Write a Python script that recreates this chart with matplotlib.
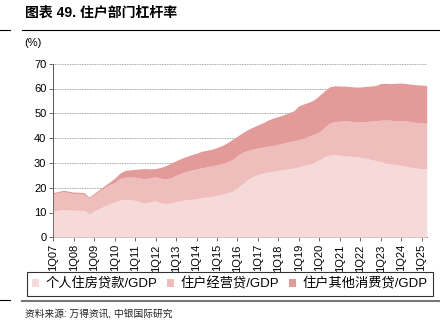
import matplotlib
matplotlib.use("Agg")
import matplotlib.pyplot as plt
from matplotlib.patches import Patch
from matplotlib.lines import Line2D

# quarterly household leverage ratios, 1Q07 - 2Q25 (% of GDP, cumulative stack tops)
housing = [10.5, 10.9, 11.2, 11.0, 10.9, 10.9, 10.8, 9.6,
           10.6, 11.6, 12.6, 13.5, 14.2, 15.0, 15.2, 15.1,
           14.9, 14.2, 13.7, 14.4, 14.7, 13.8, 13.6, 13.9,
           14.3, 14.8, 15.1, 15.3, 15.5, 16.0, 16.2, 16.5,
           16.9, 17.4, 17.9, 18.6, 20.0, 21.6, 23.3, 24.5,
           25.3, 25.9, 26.3, 26.6, 27.0, 27.3, 27.6, 27.9,
           28.4, 29.0, 29.5, 30.2, 31.2, 32.5, 33.2, 33.3,
           33.1, 32.8, 32.7, 32.5, 32.2, 31.9, 31.4, 31.0,
           30.5, 30.0, 29.6, 29.3, 29.0, 28.6, 28.2, 27.9,
           27.7, 27.6]
with_business = [17.5, 18.0, 18.4, 18.0, 17.6, 17.6, 17.3, 15.7,
                 17.2, 18.7, 20.0, 21.3, 22.0, 23.7, 24.2, 24.3,
                 24.2, 23.9, 23.5, 24.1, 24.3, 23.8, 23.6, 24.0,
                 25.0, 25.8, 26.5, 27.1, 27.6, 28.0, 28.4, 28.8,
                 29.2, 29.8, 30.4, 31.3, 33.0, 34.3, 35.0, 35.6,
                 36.0, 36.4, 36.7, 37.0, 37.5, 38.0, 38.5, 39.0,
                 39.4, 40.0, 40.8, 41.6, 42.5, 44.3, 46.0, 46.6,
                 46.8, 46.9, 46.8, 46.7, 46.6, 46.7, 46.8, 47.0,
                 47.2, 47.3, 47.2, 47.0, 46.9, 47.0, 46.6, 46.3,
                 46.1, 46.0]
total = [18.0, 18.5, 19.0, 18.6, 18.2, 18.2, 18.0, 16.2,
         17.8, 19.3, 20.8, 22.3, 23.8, 25.8, 27.0, 27.2,
         27.4, 27.6, 27.7, 27.6, 27.7, 28.2, 28.9, 29.9,
         30.9, 31.8, 32.6, 33.3, 33.9, 34.7, 35.1, 35.5,
         36.2, 37.0, 38.1, 39.5, 40.8, 42.2, 43.4, 44.4,
         45.3, 46.2, 47.3, 48.1, 48.7, 49.4, 50.2, 51.0,
         53.0, 53.8, 54.5, 55.5, 57.2, 59.0, 60.7, 61.1,
         61.0, 61.0, 60.8, 60.6, 60.6, 60.8, 61.0, 61.2,
         62.0, 62.1, 62.0, 62.1, 62.2, 62.0, 61.7, 61.5,
         61.4, 61.2]
tick_labels = ["1Q%02d" % y for y in range(7, 26)]
series_names = ["个人住房贷款/GDP", "住户经营贷/GDP", "住户其他消费贷/GDP"]
colors = ["#F6DADA", "#EEBDBC", "#E29B99"]

W, H = 440, 328
fam = ["Liberation Sans", "Noto Sans CJK SC"]

fig = plt.figure(figsize=(W / 100, H / 100), dpi=100)
ax = fig.add_axes([53.3 / W, 1 - 237.3 / H, (426.7 - 53.3) / W, (237.3 - 63.7) / H])

x = list(range(len(housing)))
ax.fill_between(x, 0, housing, color=colors[0], lw=0, zorder=3)
ax.fill_between(x, housing, with_business, color=colors[1], lw=0, zorder=3)
ax.fill_between(x, with_business, total, color=colors[2], lw=0, zorder=3)

ax.set_xlim(0, len(housing) - 1)
ax.set_ylim(0, 70)
ax.set_yticks(range(0, 71, 10))
ax.set_xticks(range(0, 4 * len(tick_labels), 4))
ax.set_xticklabels(tick_labels, rotation=90, fontsize=8, family=fam)
for lab in ax.get_yticklabels():
    lab.set_family(fam)
    lab.set_fontsize(8)
ax.tick_params(axis="both", direction="out", length=3, width=0.6, color="#555555", pad=2)
for v in range(10, 71, 10):
    ax.axhline(v, color="#888888", lw=0.6, ls=(0, (1, 1)), zorder=1)
for s in ["top", "right"]:
    ax.spines[s].set_visible(False)
for s in ["left", "bottom"]:
    ax.spines[s].set_color("#555555")
    ax.spines[s].set_linewidth(0.7)

# header, unit and source
fig.text(25 / W, 1 - 13 / H, "图表 49. 住户部门杠杆率", fontsize=10, fontweight="bold",
         family=fam, va="center", ha="left")
fig.text(24 / W, 1 - 43 / H, "(%)", fontsize=8, family=fam, va="center", ha="left")
fig.text(25 / W, 1 - 313 / H, "资料来源: 万得资讯, 中银国际研究", fontsize=7, style="italic",
         family=fam, va="center", ha="left", color="#222222")

fig.add_artist(Line2D([22 / W, 1], [1 - 30 / H, 1 - 30 / H], color="black", lw=0.8))
fig.add_artist(Line2D([0, 10 / W], [1 - 30 / H, 1 - 30 / H], color="black", lw=0.8))
fig.add_artist(Line2D([22 / W, 1], [1 - 301 / H, 1 - 301 / H], color="#777777", lw=1.5))
fig.add_artist(Line2D([0, 10 / W], [1 - 300 / H, 1 - 300 / H], color="black", lw=0.8))

handles = [Patch(facecolor=c, edgecolor="none") for c in colors]
leg = fig.legend(handles, series_names, loc="center",
                 bbox_to_anchor=(26.7 / W, 1 - 298 / H, 406 / W, 28 / H),
                 ncol=3, frameon=True, fancybox=False, edgecolor="black",
                 prop={"family": fam, "size": 9.5}, handlelength=0.5, handleheight=0.5,
                 handletextpad=0.5, columnspacing=0.8, borderaxespad=0, borderpad=0.4,
                 mode="expand")
leg.get_frame().set_linewidth(0.8)

fig.savefig("out.png", dpi=100)
